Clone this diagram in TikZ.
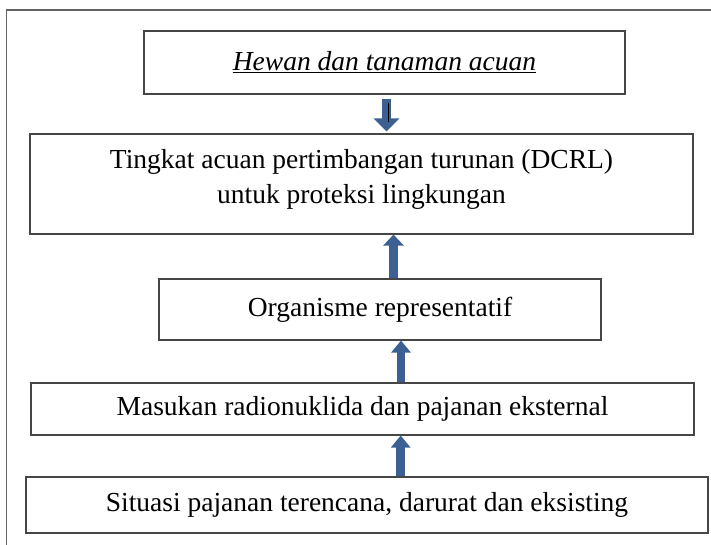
\documentclass[tikz,border=0pt]{standalone}
\usepackage{fontspec}
\setmainfont{Liberation Serif}
\usetikzlibrary{arrows.meta,calc}

\definecolor{boxline}{RGB}{70,70,70}
\definecolor{frameline}{RGB}{100,100,100}
\definecolor{arrowblue}{RGB}{60,96,145}

\begin{document}
\begin{tikzpicture}[x=1pt,y=-1pt,
  every node/.style={font=\fontsize{27.5}{35}\selectfont, text=black},
  box/.style={draw=boxline, line width=1.1pt, inner sep=0pt, fill=white},
  flow/.style={draw=arrowblue, line width=8.5pt,
    -{Triangle[width=19pt,length=12pt]}},
  bigflow/.style={draw=arrowblue, line width=9pt,
    -{Triangle[width=25pt,length=13pt]}},
  innerline/.style={draw=black, line width=0.8pt}]

\useasboundingbox (0,0) rectangle (711,545);

% outer frame (top and left edges)
\coordinate (fbl) at (6.5,545);
\coordinate (ftl) at (6.5,10);
\coordinate (ftr) at (711,10);
\draw[frameline, line width=1.5pt] (fbl) -- (ftl) -- (ftr);

% boxes
\node[box, minimum width=481pt, minimum height=63pt] (hewan) at (384.5,62.5)
  {\textit{\underline{Hewan dan tanaman acuan}}};
\node[box, minimum width=663pt, minimum height=100pt] (dcrl) at (361.5,184) {};
\node[align=center, inner sep=0pt] (dcrltext) at (361.5,179.5)
  {Tingkat acuan pertimbangan turunan (DCRL)\\untuk proteksi lingkungan};
\node[box, minimum width=442pt, minimum height=61pt] (organ) at (380,309.5)
  {Organisme representatif};
\node[box, minimum width=663pt, minimum height=52pt] (masukan) at (362.5,409)
  {Masukan radionuklida dan pajanan eksternal};
\node[box, minimum width=682pt, minimum height=56pt] (situasi) at (367,505)
  {Situasi pajanan terencana, darurat dan eksisting};

% arrow columns
\coordinate (a1) at (386.5,0);
\coordinate (a2) at (393.5,0);
\coordinate (a3) at (401,0);
\coordinate (a4) at (400.7,0);

% connectors
\draw[bigflow, shorten <=4pt, shorten >=2pt] (hewan.south -| a1) -- (dcrl.north -| a1);
\draw[innerline, shorten <=8pt, shorten >=11pt]
  ($(hewan.south -| a1)+(1.5,0)$) -- ($(dcrl.north -| a1)+(1.5,0)$);
\draw[flow, line width=9pt, -{Triangle[width=20pt,length=11pt]}]
  (organ.north -| a2) -- (dcrl.south -| a2);
\draw[flow] (masukan.north -| a3) -- (organ.south -| a3);
\draw[flow] (situasi.north -| a4) -- (masukan.south -| a4);

\end{tikzpicture}
\end{document}
